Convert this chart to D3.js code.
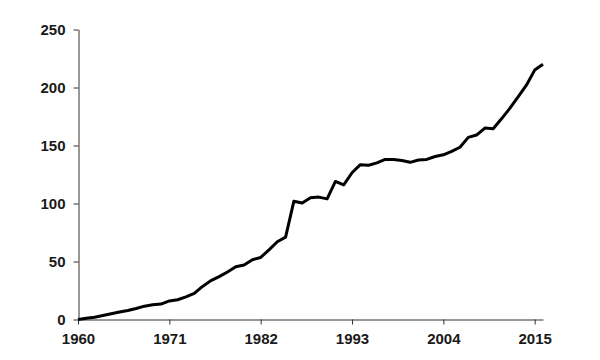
<!DOCTYPE html>
<html>
<head>
<meta charset="utf-8">
<script src="https://cdn.jsdelivr.net/npm/d3@7"></script>
<style>
  body { margin: 0; background: #fff; }
  .axis text { font-family: "Liberation Sans", Arial, sans-serif; font-size: 15px; font-weight: bold; fill: #1a1a1a; }
  .axis path, .axis line { stroke: #333; }
</style>
</head>
<body>
<svg width="600" height="360"></svg>
<script>
// data
const years = d3.range(1960, 2017);
const values = [
  0, 1, 2, 3.5, 5, 6.5, 7.7, 9.5, 11.5, 12.8,
  13.3, 16, 17, 19.5, 22.5, 28.5, 33.5, 37, 41, 45.5,
  47, 51.5, 53.5, 60, 67, 71, 102, 100.5, 105, 105.5,
  104, 119, 116, 126.5, 133.5, 133, 135, 138, 138, 137,
  135.5, 137.5, 138, 140.5, 142, 145, 148.5, 157, 159, 165,
  164.5, 173, 182, 192, 202, 215, 220
];
const xTicks = [1960, 1971, 1982, 1993, 2004, 2015];
const yTicks = [0, 50, 100, 150, 200, 250];

const data = years.map((y, i) => ({ year: y, value: values[i] }));

const svg = d3.select("svg");

const x = d3.scaleLinear().domain([1960, 2016]).range([78, 543]);
const y = d3.scaleLinear().domain([0, 250]).range([319.5, 29.5]);

// sumbu x
svg.append("g")
  .attr("class", "axis")
  .attr("transform", "translate(0,319.5)")
  .call(d3.axisBottom(x).tickValues(xTicks).tickFormat(d3.format("d"))
    .tickSize(5).tickSizeOuter(0).tickPadding(9));

// sumbu y
svg.append("g")
  .attr("class", "axis")
  .attr("transform", "translate(78.5,0)")
  .call(d3.axisLeft(y).tickValues(yTicks).tickSize(5).tickSizeOuter(0).tickPadding(8));

// garis data
svg.append("path")
  .datum(data)
  .attr("fill", "none")
  .attr("stroke", "#000")
  .attr("stroke-width", 3)
  .attr("stroke-linejoin", "round")
  .attr("d", d3.line().x(d => x(d.year)).y(d => y(d.value)));
</script>
</body>
</html>
